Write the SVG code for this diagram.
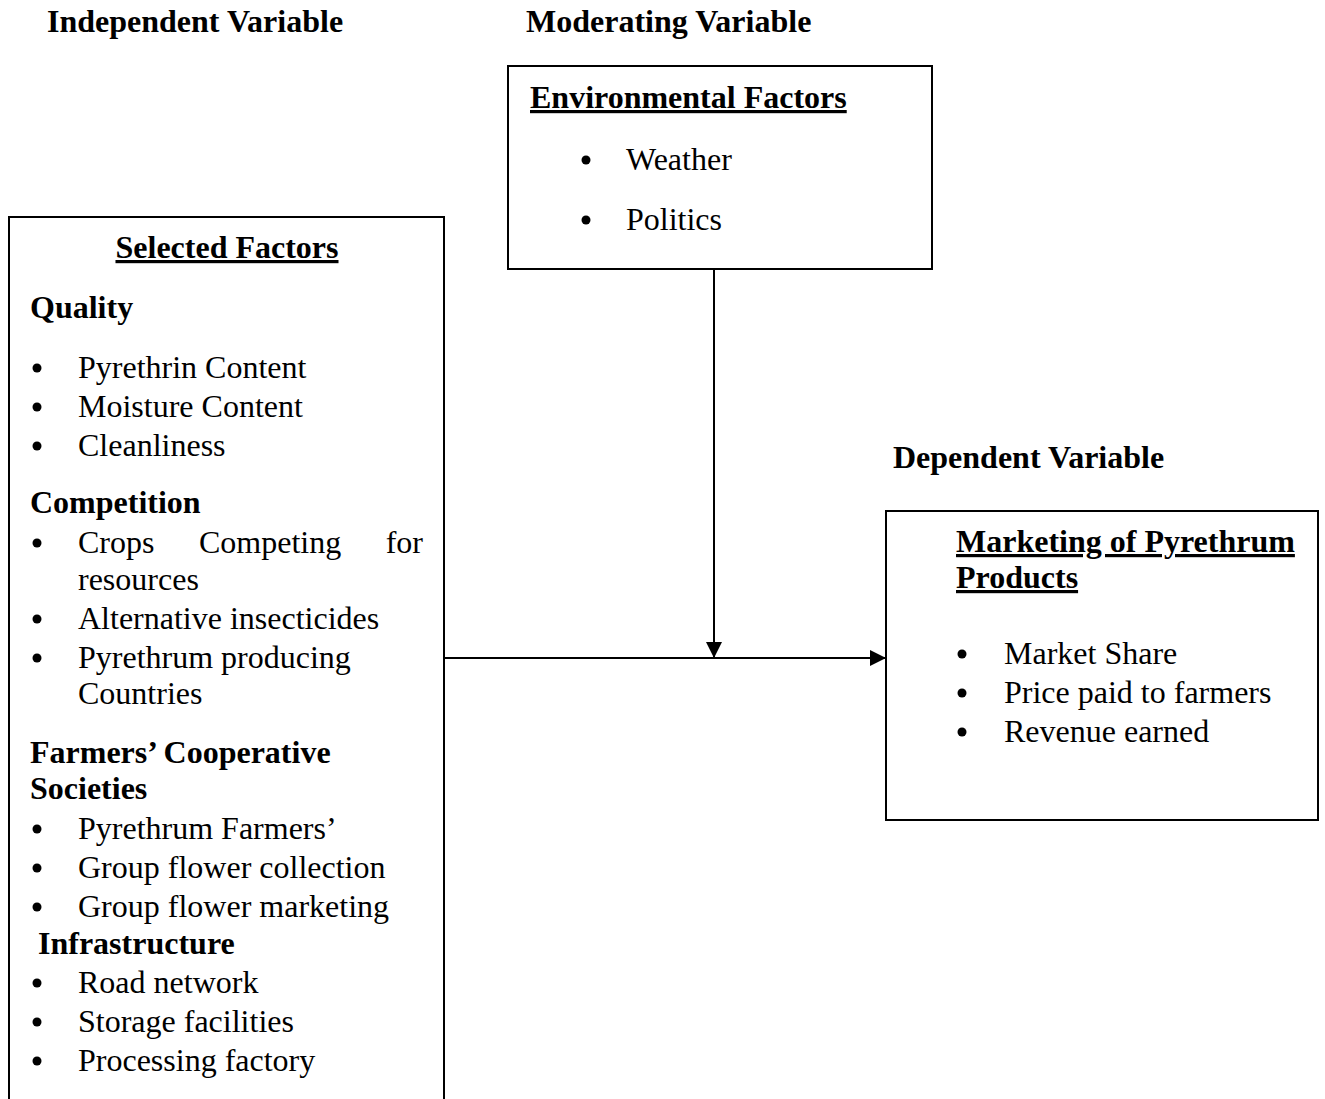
<svg xmlns="http://www.w3.org/2000/svg" width="1325" height="1099" viewBox="0 0 1325 1099">
<defs>
<style>
text{font-family:"Liberation Serif","Times New Roman",serif;font-size:32px;fill:#000}
.b{font-weight:bold}
.u{text-decoration:underline}
.box{fill:#fff;stroke:#000;stroke-width:2}
.conn{stroke:#000;stroke-width:2;fill:none}
.dot{fill:#000}
</style>
<marker id="arr" viewBox="0 0 16 16" refX="16" refY="8" markerWidth="16" markerHeight="16" markerUnits="userSpaceOnUse" orient="auto">
<path d="M0,0 L16,8 L0,16 Z" fill="#000"/>
</marker>
</defs>
<rect width="1325" height="1099" fill="#fff"/>
<g id="headings">
<text class="b" x="47" y="32">Independent Variable</text>
<text class="b" x="526" y="32">Moderating Variable</text>
<text class="b" x="893" y="468">Dependent Variable</text>
</g>
<g id="selected-factors">
<rect class="box" x="9" y="217" width="435" height="900"/>
<text class="b u" x="227" y="258" text-anchor="middle">Selected Factors</text>
<text class="b" x="30" y="318">Quality</text>
<circle class="dot" cx="37" cy="368" r="4.5"/><text x="78" y="378">Pyrethrin Content</text>
<circle class="dot" cx="37" cy="407" r="4.5"/><text x="78" y="417">Moisture Content</text>
<circle class="dot" cx="37" cy="446" r="4.5"/><text x="78" y="456">Cleanliness</text>
<text class="b" x="30" y="513">Competition</text>
<circle class="dot" cx="37" cy="543" r="4.5"/><text x="78" y="553">Crops</text><text x="199" y="553">Competing</text><text x="423" y="553" text-anchor="end">for</text>
<text x="78" y="590">resources</text>
<circle class="dot" cx="37" cy="619" r="4.5"/><text x="78" y="629">Alternative insecticides</text>
<circle class="dot" cx="37" cy="658" r="4.5"/><text x="78" y="668">Pyrethrum producing</text>
<text x="78" y="704">Countries</text>
<text class="b" x="30" y="763">Farmers’ Cooperative</text>
<text class="b" x="30" y="799">Societies</text>
<circle class="dot" cx="37" cy="829" r="4.5"/><text x="78" y="839">Pyrethrum Farmers’</text>
<circle class="dot" cx="37" cy="868" r="4.5"/><text x="78" y="878">Group flower collection</text>
<circle class="dot" cx="37" cy="907" r="4.5"/><text x="78" y="917">Group flower marketing</text>
<text class="b" x="38" y="954">Infrastructure</text>
<circle class="dot" cx="37" cy="983" r="4.5"/><text x="78" y="993">Road network</text>
<circle class="dot" cx="37" cy="1022" r="4.5"/><text x="78" y="1032">Storage facilities</text>
<circle class="dot" cx="37" cy="1061" r="4.5"/><text x="78" y="1071">Processing factory</text>
</g>
<g id="environmental-factors">
<rect class="box" x="508" y="66" width="424" height="203"/>
<text class="b u" x="530" y="108">Environmental Factors</text>
<circle class="dot" cx="586" cy="160" r="4.5"/><text x="626" y="170">Weather</text>
<circle class="dot" cx="586" cy="220" r="4.5"/><text x="626" y="230">Politics</text>
</g>
<g id="marketing">
<rect class="box" x="886" y="511" width="432" height="309"/>
<text class="b u" x="956" y="552">Marketing of Pyrethrum</text>
<text class="b u" x="956" y="588">Products</text>
<circle class="dot" cx="962" cy="654" r="4.5"/><text x="1004" y="664">Market Share</text>
<circle class="dot" cx="962" cy="693" r="4.5"/><text x="1004" y="703">Price paid to farmers</text>
<circle class="dot" cx="962" cy="732" r="4.5"/><text x="1004" y="742">Revenue earned</text>
</g>
<g id="connectors">
<line class="conn" x1="714" y1="269" x2="714" y2="658" marker-end="url(#arr)"/>
<line class="conn" x1="444" y1="658" x2="886" y2="658" marker-end="url(#arr)"/>
</g>
</svg>
